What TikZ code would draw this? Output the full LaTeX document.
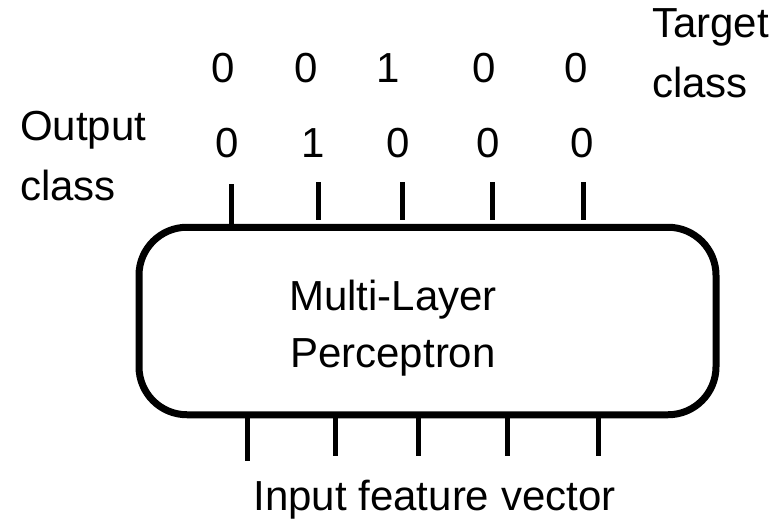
\documentclass[tikz,border=0pt]{standalone}
\usepackage{fontspec}
\setmainfont{Liberation Sans}
\usetikzlibrary{positioning}

\begin{document}
\begin{tikzpicture}[x=1pt, y=-1pt,
	txt/.style={font=\fontsize{42}{60}\selectfont, inner sep=0pt},
	stub/.style={line width=5pt},
]

\useasboundingbox (0,0) rectangle (777,520);

% Perceptron box
\node [draw,
	line width=7pt,
	rounded corners=48pt,
	minimum width=577pt,
	minimum height=187.5pt,
]  (mlp) at (427.5,321) {};

% text sits a bit left of the box centre
\node [txt,
	align=center,
	font=\fontsize{42}{57}\selectfont,
	anchor=base,
]  (mlplabel) at (393,367) {Multi-Layer\\Perceptron};

% Side labels (base = last line)
\node [txt, align=left, anchor=base west] (outlabel) at (20,200) {Output\\class};
\node [txt, align=left, anchor=base west] (tgtlabel) at (652,97) {Target\\class};

% Target row
\node [txt, anchor=base] (t1) at (223,82) {0};
\node [txt, anchor=base] (t2) at (306,82) {0};
\node [txt, anchor=base] (t3) at (388,82) {1};
\node [txt, anchor=base] (t4) at (484,82) {0};
\node [txt, anchor=base] (t5) at (576,82) {0};

% Output row
\node [txt, anchor=base] (o1) at (227,157) {0};
\node [txt, anchor=base] (o2) at (313,157) {1};
\node [txt, anchor=base] (o3) at (398,157) {0};
\node [txt, anchor=base] (o4) at (488,157) {0};
\node [txt, anchor=base] (o5) at (582,157) {0};

% Output lines
\coordinate (up1) at (231,184);
\coordinate (up2) at (318,182);
\coordinate (up3) at (402,182);
\coordinate (up4) at (492,182);
\coordinate (up5) at (583,182);
\draw[stub] (up1) -- (up1 |- mlp.north);
\foreach \i in {2,...,5}
	\draw[stub] (up\i) -- ([yshift=4pt] up\i |- mlp.north);

% Input lines
\coordinate (in1) at (247,461);
\coordinate (in2) at (335,456);
\coordinate (in3) at (418,456);
\coordinate (in4) at (507,456);
\coordinate (in5) at (598,456);
\foreach \i in {1,...,5}
	\draw[stub] (in\i |- mlp.south) -- (in\i);

\node [txt, anchor=base] (inlabel) at (434.5,510) {Input feature vector};

\end{tikzpicture}
\end{document}
